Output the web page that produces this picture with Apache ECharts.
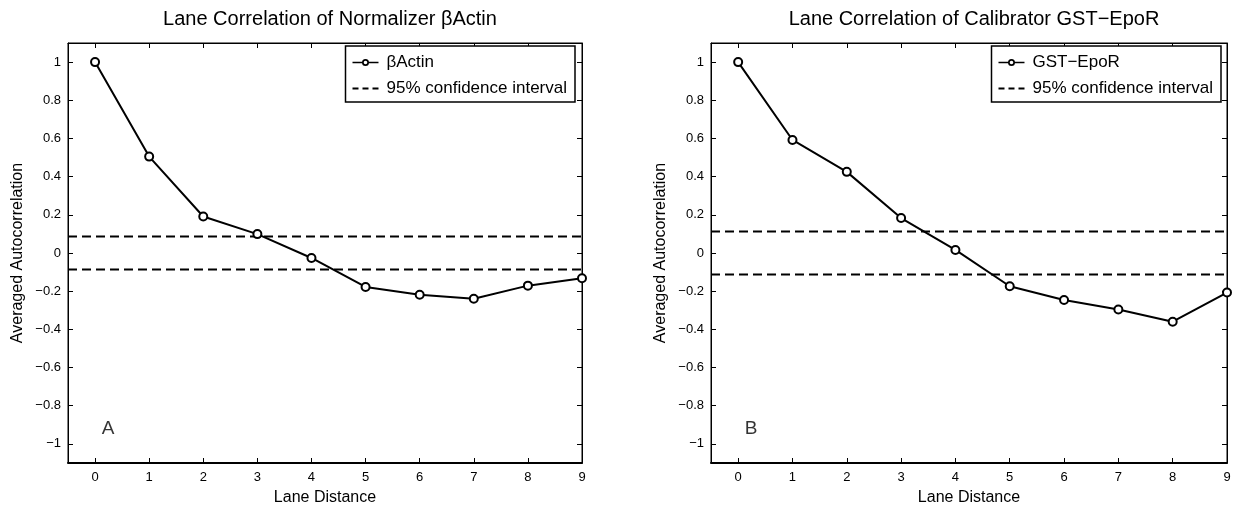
<!DOCTYPE html>
<html>
<head>
<meta charset="utf-8">
<script src="https://cdn.jsdelivr.net/npm/echarts@6/dist/echarts.min.js"></script>
<style>
html,body{margin:0;padding:0;background:#fff;}
#chart{width:1246px;height:511px;}
</style>
</head>
<body>
<div id="chart"></div>
<script>
// ---- data ----
const lanes = [0, 1, 2, 3, 4, 5, 6, 7, 8, 9];
const actinValues = [1.0, 0.505, 0.191, 0.099, -0.026, -0.178, -0.219, -0.240, -0.171, -0.132];
const epoRValues = [1.0, 0.592, 0.425, 0.183, 0.016, -0.174, -0.246, -0.296, -0.360, -0.207];
const actinConf = 0.087;
const epoRConf = 0.113;
const xTicks = [0, 1, 2, 3, 4, 5, 6, 7, 8, 9];
const yTicks = [-1, -0.8, -0.6, -0.4, -0.2, 0, 0.2, 0.4, 0.6, 0.8, 1];
const titles = ['Lane Correlation of Normalizer \u03b2Actin', 'Lane Correlation of Calibrator GST\u2212EpoR'];
const seriesNames = ['\u03b2Actin', 'GST\u2212EpoR'];
const confName = '95% confidence interval';
const panelLabels = ['A', 'B'];
const panelLabelPos = [[0.24, -0.92], [0.24, -0.92]];
const xName = 'Lane Distance';
const yName = 'Averaged Autocorrelation';
const xRange = [-0.5, 9];
const yRange = [-1.1, 1.1];

// ---- layout ----
const FONT = '"Liberation Sans", Arial, Helvetica, sans-serif';
const W = 1246;
const grids = [
  {left: 68, right: 664, top: 43, bottom: 39},
  {left: 711, right: 19, top: 43, bottom: 39}
];
const legendRight = [671, 25];
const lineIcon = 'path://M0,6.25H9.6V7.75H0Z M16.4,6.25H26V7.75H16.4Z M9.5,7A3.5,3.5 0 1,1 16.5,7A3.5,3.5 0 1,1 9.5,7Z M11.2,7A1.8,1.8 0 1,0 14.8,7A1.8,1.8 0 1,0 11.2,7Z';
const dashIcon = 'path://M0,0H6V2H0Z M10,0H16V2H10Z M20,0H26V2H20Z';

function fmtY(v) {
  const r = Math.round(v * 10) / 10;
  if (r === 0) return '0';
  return String(r).replace('-', '\u2212');
}

const option = {
  backgroundColor: '#fff',
  animation: false,
  textStyle: {fontFamily: FONT, color: '#000'},
  title: titles.map((t, i) => ({
    text: t,
    left: (grids[i].left + (W - grids[i].right)) / 2,
    textAlign: 'center',
    top: 4,
    textStyle: {fontFamily: FONT, fontSize: 20, fontWeight: 'normal', color: '#000'}
  })),
  grid: grids.map(g => Object.assign({show: true, borderColor: '#000', borderWidth: 1, backgroundColor: '#fff'}, g)),
  legend: [0, 1].map(i => ({
    data: [{name: seriesNames[i], icon: lineIcon}, {name: confName, icon: dashIcon}],
    orient: 'vertical',
    right: legendRight[i],
    top: 46,
    padding: [8, 8, 5, 7],
    itemGap: 9,
    itemWidth: 26,
    itemHeight: 17,
    symbolKeepAspect: true,
    borderColor: '#000',
    borderWidth: 1.5,
    backgroundColor: '#fff',
    borderRadius: 0,
    itemStyle: {color: '#000', borderWidth: 0},
    textStyle: {fontFamily: FONT, fontSize: 17, color: '#000', padding: [0, 0, 0, 3]},
    selectedMode: false
  })),
  xAxis: [],
  yAxis: [],
  series: []
};

[0, 1].forEach(i => {
  option.xAxis.push({
    type: 'value', gridIndex: i, position: 'bottom', min: xRange[0], max: xRange[1],
    name: xName, nameLocation: 'middle', nameGap: 27,
    nameTextStyle: {fontFamily: FONT, fontSize: 16, color: '#000'},
    axisLine: {show: true, onZero: false, lineStyle: {color: '#000', width: 2}},
    axisTick: {show: true, inside: true, length: 5, customValues: xTicks, lineStyle: {color: '#000'}},
    axisLabel: {show: true, customValues: xTicks, margin: 8, fontFamily: FONT, fontSize: 13, color: '#000'},
    splitLine: {show: false}
  });
  option.xAxis.push({
    type: 'value', gridIndex: i, position: 'top', min: xRange[0], max: xRange[1],
    axisLine: {show: true, onZero: false, lineStyle: {color: '#000', width: 1}},
    axisTick: {show: true, inside: true, length: 5, customValues: xTicks, lineStyle: {color: '#000'}},
    axisLabel: {show: false},
    splitLine: {show: false}
  });
  option.yAxis.push({
    type: 'value', gridIndex: i, position: 'left', min: yRange[0], max: yRange[1],
    name: yName, nameLocation: 'middle', nameGap: 42, nameRotate: 90,
    nameTextStyle: {fontFamily: FONT, fontSize: 16, color: '#000'},
    axisLine: {show: true, onZero: false, lineStyle: {color: '#000', width: 1}},
    axisTick: {show: true, inside: true, length: 5, customValues: yTicks, lineStyle: {color: '#000'}},
    axisLabel: {show: true, customValues: yTicks, margin: 7, formatter: fmtY, fontFamily: FONT, fontSize: 13, color: '#000'},
    splitLine: {show: false}
  });
  option.yAxis.push({
    type: 'value', gridIndex: i, position: 'right', min: yRange[0], max: yRange[1],
    axisLine: {show: true, onZero: false, lineStyle: {color: '#000', width: 1}},
    axisTick: {show: true, inside: true, length: 5, customValues: yTicks, lineStyle: {color: '#000'}},
    axisLabel: {show: false},
    splitLine: {show: false}
  });

  const xi = i * 2, yi = i * 2;
  const vals = i === 0 ? actinValues : epoRValues;
  const conf = i === 0 ? actinConf : epoRConf;

  option.series.push({
    name: seriesNames[i], type: 'line', xAxisIndex: xi, yAxisIndex: yi,
    data: lanes.map((x, k) => [x, vals[k]]),
    symbol: 'emptyCircle', symbolSize: 8,
    lineStyle: {color: '#000', width: 2},
    itemStyle: {color: '#000', borderWidth: 1.8},
    z: 5
  });
  [conf, -conf].forEach(c => {
    option.series.push({
      name: confName, type: 'line', xAxisIndex: xi, yAxisIndex: yi,
      data: [[xRange[0], c], [xRange[1], c]],
      symbol: 'none', showSymbol: false,
      lineStyle: {color: '#000', width: 2, type: [9, 5]},
      itemStyle: {color: '#000'},
      z: 4
    });
  });
  option.series.push({
    name: 'label' + i, type: 'scatter', xAxisIndex: xi, yAxisIndex: yi,
    data: [panelLabelPos[i]],
    symbolSize: 1,
    itemStyle: {color: 'rgba(0,0,0,0)'},
    label: {show: true, position: 'inside', formatter: panelLabels[i], fontFamily: FONT, fontSize: 19, color: '#000'},
    silent: true, z: 6
  });
});

const chart = echarts.init(document.getElementById('chart'), null, {renderer: 'canvas'});
chart.setOption(option);
</script>
</body>
</html>
